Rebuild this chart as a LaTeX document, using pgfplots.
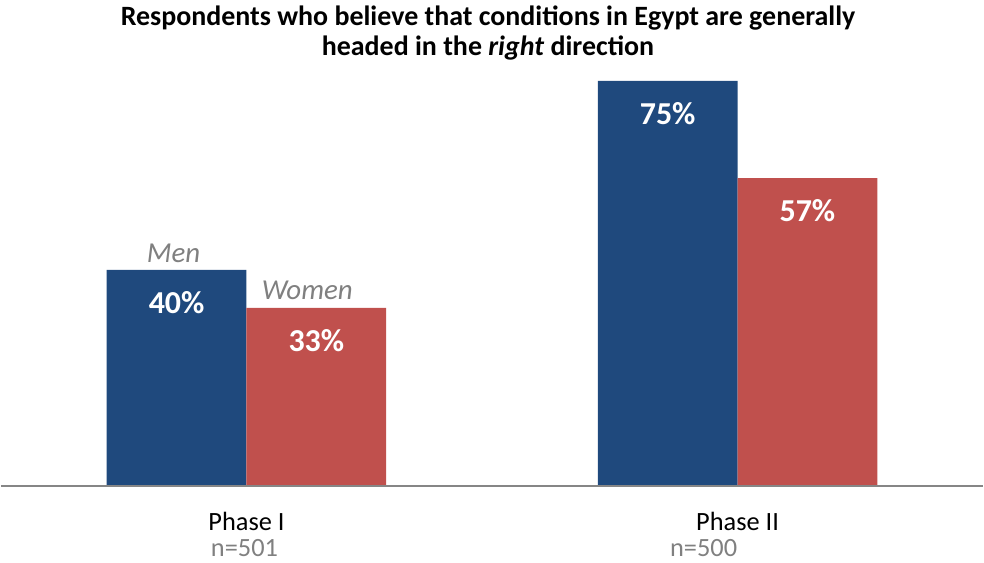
\documentclass[border=0pt]{standalone}
\usepackage{fontspec}
\setmainfont{Carlito}
\usepackage{pgfplots}
\pgfplotsset{compat=1.18}
\definecolor{menblue}{RGB}{31,73,125}
\definecolor{womred}{RGB}{192,80,77}
\definecolor{lblgray}{RGB}{128,128,128}
\definecolor{axgray}{RGB}{134,134,134}
\begin{document}
\begin{tikzpicture}
\begin{axis}[
  scale only axis, width=738pt, height=423pt,
  xmin=0, xmax=984, ymin=-14.227, ymax=89.97,
  axis lines=none, ticks=none, clip=false,
  /pgf/number format/assume math mode=true,
  ybar, bar width=140, bar shift=0,
  nodes near coords={\pgfmathprintnumber{\pgfplotspointmeta}\%},
  every node near coord/.append style={anchor=center, yshift=-24.5pt, text=white, font=\bfseries\fontsize{24}{28}\selectfont},
]
\path (rel axis cs:0,0) rectangle (rel axis cs:1,1);
\addplot[fill=menblue, draw=none] coordinates {(176,40) (668,75)};
\addplot[fill=womred, draw=none] coordinates {(316,33) (808,57)};
\draw[axgray, line width=1.4pt] (axis cs:0,0) -- (axis cs:984,0);
\node[font=\bfseries\fontsize{21}{22.5}\selectfont, align=center] at (axis cs:488,83.9) {Respondents who believe that conditions in Egypt are generally\\headed in the \textit{right} direction};
\node[font=\itshape\fontsize{21.7}{24}\selectfont, text=lblgray] at (axis cs:173,43.0) {Men};
\node[font=\itshape\fontsize{21.7}{24}\selectfont, text=lblgray] at (axis cs:307,36.2) {Women};
\node[font=\fontsize{19.8}{22}\selectfont] at (axis cs:246,-6.6) {Phase I};
\node[font=\fontsize{19.8}{22}\selectfont, text=lblgray] at (axis cs:244,-11.5) {n=501};
\node[font=\fontsize{19.8}{22}\selectfont] at (axis cs:738,-6.6) {Phase II};
\node[font=\fontsize{19.8}{22}\selectfont, text=lblgray] at (axis cs:704,-11.5) {n=500};
\end{axis}
\end{tikzpicture}
\end{document}
